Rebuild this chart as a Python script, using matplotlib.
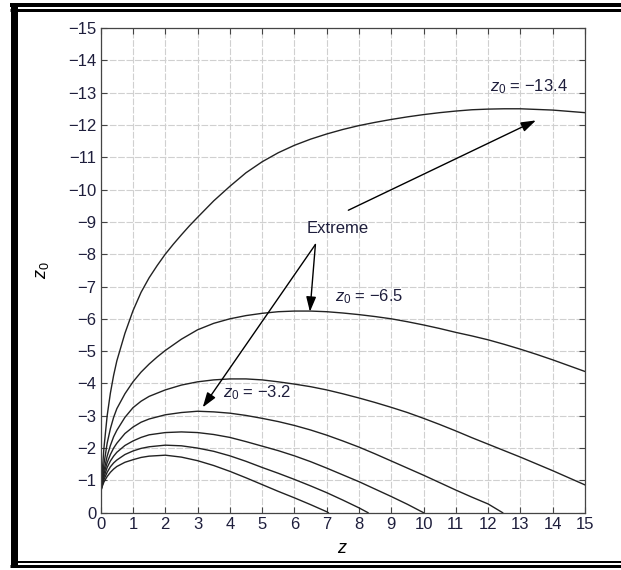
import numpy as np
import matplotlib
matplotlib.use("Agg")
import matplotlib.pyplot as plt
from matplotlib.lines import Line2D

plt.rcParams['font.family'] = ['Liberation Sans', 'DejaVu Sans']
plt.rcParams['mathtext.fontset'] = 'custom'
plt.rcParams['mathtext.rm'] = 'Liberation Sans'
plt.rcParams['mathtext.it'] = 'Liberation Sans:italic'

# ---------- curves (z, z0) ----------
z_c1 = [0.0, 0.05, 0.1, 0.2, 0.3, 0.4, 0.5, 0.75, 1.0, 1.25, 1.5, 2.0, 2.5, 3.0, 3.5,
        4.0, 4.5, 5.0, 5.5, 6.0, 6.5, 7.0, 7.05]
y_c1 = [-0.65, -0.82, -0.95, -1.12, -1.25, -1.35, -1.43, -1.56, -1.64, -1.71, -1.75, -1.78, -1.72, -1.61, -1.46,
        -1.28, -1.08, -0.87, -0.66, -0.46, -0.25, -0.03, 0.0]

z_c2 = [0.0, 0.05, 0.1, 0.2, 0.3, 0.4, 0.5, 0.75, 1.0, 1.25, 1.5, 2.0, 2.5, 3.0, 3.5,
        4.0, 4.5, 5.0, 5.5, 6.0, 6.5, 7.0, 7.5, 8.0, 8.28]
y_c2 = [-0.65, -0.85, -1.02, -1.25, -1.42, -1.54, -1.63, -1.8, -1.91, -1.99, -2.04, -2.09, -2.07, -2.0, -1.9,
        -1.76, -1.59, -1.4, -1.22, -1.03, -0.83, -0.62, -0.39, -0.15, 0.0]

z_c3 = [0.0, 0.05, 0.1, 0.2, 0.3, 0.4, 0.5, 0.75, 1.0, 1.25, 1.5, 2.0, 2.5, 3.0, 3.5,
        4.0, 4.5, 5.0, 5.5, 6.0, 6.5, 7.0, 7.5, 8.0, 8.5, 9.0, 9.5, 10.0]
y_c3 = [-0.65, -0.9, -1.1, -1.4, -1.6, -1.75, -1.87, -2.08, -2.22, -2.33, -2.41, -2.48, -2.5, -2.48, -2.42,
        -2.33, -2.2, -2.06, -1.92, -1.76, -1.58, -1.38, -1.17, -0.96, -0.73, -0.5, -0.26, 0.0]

z_c4 = [0.0, 0.05, 0.1, 0.2, 0.3, 0.4, 0.5, 0.75, 1.0, 1.25, 1.5, 2.0, 2.5, 3.0, 3.5,
        4.0, 4.5, 5.0, 5.5, 6.0, 6.5, 7.0, 7.5, 8.0, 8.5, 9.0, 9.5, 10.0, 10.5, 11.0,
        11.5, 12.0, 12.45]
y_c4 = [-0.65, -0.95, -1.2, -1.55, -1.8, -2.0, -2.15, -2.45, -2.65, -2.8, -2.9, -3.03, -3.1, -3.14, -3.12,
        -3.08, -3.01, -2.92, -2.82, -2.7, -2.56, -2.4, -2.22, -2.03, -1.82, -1.6, -1.38, -1.16, -0.93, -0.7,
        -0.48, -0.27, 0.0]

z_c5 = [0.0, 0.05, 0.1, 0.2, 0.3, 0.4, 0.5, 0.75, 1.0, 1.25, 1.5, 2.0, 2.5, 3.0, 3.5,
        4.0, 4.5, 5.0, 5.5, 6.0, 6.5, 7.0, 7.5, 8.0, 8.5, 9.0, 9.5, 10.0, 10.5, 11.0,
        11.5, 12.0, 12.5, 13.0, 13.5, 14.0, 14.5, 15.0]
y_c5 = [-0.65, -1.0, -1.3, -1.75, -2.08, -2.35, -2.55, -2.95, -3.25, -3.45, -3.6, -3.8, -3.95, -4.05, -4.11,
        -4.14, -4.14, -4.11, -4.05, -3.98, -3.9, -3.8, -3.68, -3.55, -3.41, -3.26, -3.1, -2.92, -2.73, -2.53,
        -2.32, -2.12, -1.92, -1.72, -1.51, -1.3, -1.08, -0.86]

z_c6 = [0.0, 0.05, 0.1, 0.2, 0.3, 0.4, 0.5, 0.75, 1.0, 1.25, 1.5, 1.75, 2.0, 2.5, 3.0, 3.5,
        4.0, 4.5, 5.0, 5.5, 6.0, 6.5, 7.0, 7.5, 8.0, 8.5, 9.0, 9.5, 10.0, 10.5, 11.0,
        11.5, 12.0, 12.5, 13.0, 13.5, 14.0, 14.5, 15.0]
y_c6 = [-0.65, -1.1, -1.5, -2.15, -2.6, -2.95, -3.22, -3.68, -4.05, -4.35, -4.6, -4.82, -5.02, -5.37, -5.66, -5.86,
        -6.0, -6.1, -6.17, -6.22, -6.24, -6.24, -6.22, -6.18, -6.13, -6.07, -6.0, -5.91, -5.81, -5.7, -5.58,
        -5.47, -5.35, -5.21, -5.06, -4.9, -4.73, -4.55, -4.37]

z_c7 = [0.0, 0.05, 0.1, 0.2, 0.3, 0.4, 0.5, 0.75, 1.0, 1.25, 1.5, 1.75, 2.0, 2.25, 2.5, 2.75, 3.0, 3.5,
        4.0, 4.5, 5.0, 5.5, 6.0, 6.5, 7.0, 7.5, 8.0, 8.5, 9.0, 9.5, 10.0, 10.5, 11.0,
        11.5, 12.0, 12.5, 13.0, 13.5, 14.0, 14.5, 15.0]
y_c7 = [-0.65, -1.3, -2.0, -3.0, -3.7, -4.25, -4.7, -5.55, -6.25, -6.82, -7.27, -7.65, -8.0, -8.31, -8.6, -8.88, -9.14, -9.65,
        -10.1, -10.52, -10.86, -11.14, -11.37, -11.56, -11.72, -11.86, -11.98, -12.08, -12.17, -12.25, -12.32, -12.38, -12.43,
        -12.47, -12.49, -12.5, -12.5, -12.48, -12.46, -12.42, -12.38]

curves = [(z_c1, y_c1), (z_c2, y_c2), (z_c3, y_c3), (z_c4, y_c4),
          (z_c5, y_c5), (z_c6, y_c6), (z_c7, y_c7)]

x_ticks = list(range(0, 16))
y_ticks = list(range(0, -16, -1))

labels = [r'$z_0$ = −13.4', r'$z_0$ = −6.5', r'$z_0$ = −3.2']
label_pos = [(12.05, -13.2), (7.25, -6.68), (3.79, -3.7)]

extreme_pos = (7.35, -8.81)
arrow_tails = [(7.67, -9.36), (6.65, -8.3), (6.65, -8.3)]
arrow_heads = [(13.48, -12.14), (6.48, -6.22), (3.16, -3.26)]

# ---------- figure ----------
W, H = 621, 570
fig = plt.figure(figsize=(W / 100, H / 100), dpi=100)
ax = fig.add_axes([100.7 / W, 1 - 512.7 / H, (585 - 100.7) / W, (512.7 - 28) / H])

for zz, yy in curves:
    ax.plot(zz, yy, color='#222222', lw=1.0, solid_joinstyle='round')

ax.set_xlim(0, 15)
ax.set_ylim(0, -15)
ax.set_xticks(x_ticks)
ax.set_yticks(y_ticks)
ax.grid(True, color='#d0d0d0', linestyle=(0, (6, 1.5)), lw=0.8)
ax.set_axisbelow(True)
ax.tick_params(direction='in', top=True, right=True, length=4, width=0.8,
               labelsize=12, labelcolor='#1e1e3c', color='#444444', pad=3)
for s in ax.spines.values():
    s.set_color('#444444')
    s.set_linewidth(0.9)

ax.set_xlabel(r'$z$', fontsize=13, labelpad=6)
ax.set_ylabel(r'$z_0$', fontsize=13, labelpad=12)

for txt, (lx, ly) in zip(labels, label_pos):
    ax.text(lx, ly, txt, fontsize=12, ha='left', va='center', color='#1e1e3c')

ax.text(extreme_pos[0], extreme_pos[1], 'Extreme', fontsize=12, ha='center', va='center', color='#1e1e3c')
for (tx, ty), (hx, hy) in zip(arrow_tails, arrow_heads):
    ax.annotate('', xy=(hx, hy), xytext=(tx, ty),
                arrowprops=dict(arrowstyle='-|>,head_length=0.9,head_width=0.3', color='k',
                                lw=1.0, shrinkA=0, shrinkB=0))

# ---------- outer frame ----------
def px_line(x0, y0, x1, y1, w):
    fig.add_artist(Line2D([x0 / W, x1 / W], [1 - y0 / H, 1 - y1 / H],
                          transform=fig.transFigure, color='k', lw=w * 0.72,
                          solid_capstyle='butt'))

px_line(10, 5, W, 5, 4)
px_line(10, 9.5, W, 9.5, 3)
px_line(17, 561.5, W, 561.5, 2)
px_line(10, 565.5, W, 565.5, 3)
px_line(13.5, 3, 13.5, 567, 7)

fig.savefig('out.png', dpi=100)
